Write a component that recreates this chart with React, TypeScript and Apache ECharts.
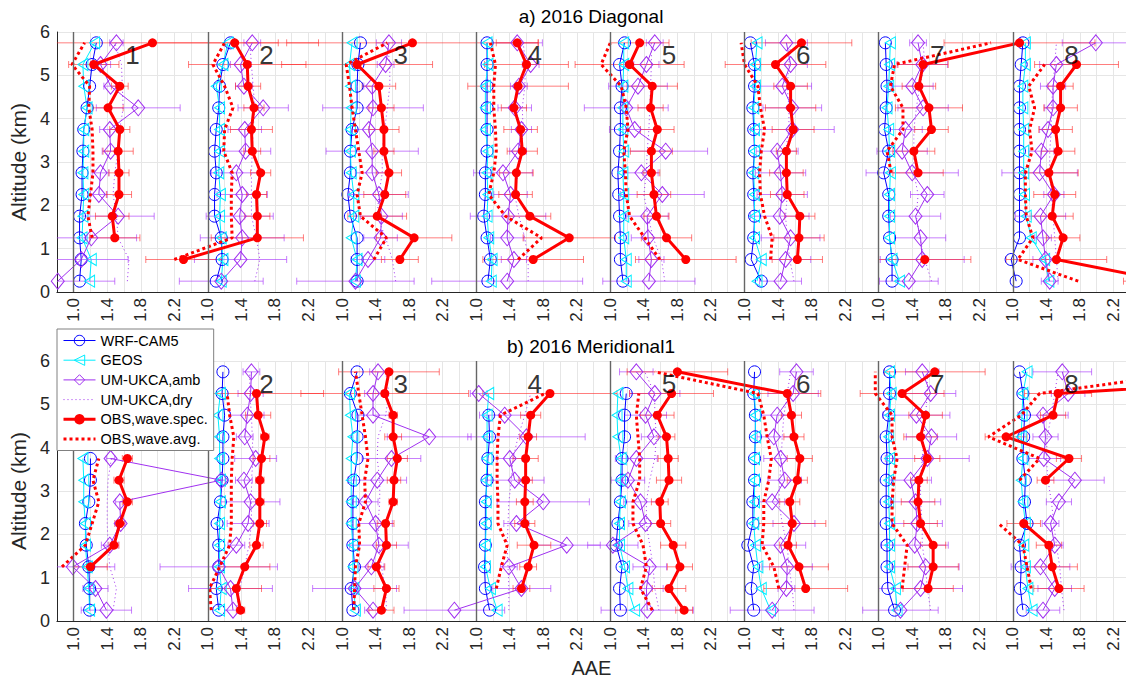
import React, { useEffect, useRef } from 'react';
import * as echarts from 'echarts';

// Altitude levels (km), bottom to top
const ALT = [0.25, 0.75, 1.25, 1.75, 2.25, 2.75, 3.25, 3.75, 4.25, 4.75, 5.25, 5.75];
const SUBPLOT_NAMES = ['1', '2', '3', '4', '5', '6', '7', '8'];
const TICK_LABELS = ['1.0', '1.4', '1.8', '2.2'];
const OFFSET = 1.6; // each sub-profile is shifted by this many AAE units
const LEGEND_NAMES = ['WRF-CAM5', 'GEOS', 'UM-UKCA,amb', 'UM-UKCA,dry', 'OBS,wave.spec.', 'OBS,wave.avg.'];

// ---------- a) 2016 Diagonal ----------
const A_WRF = [
  [1.07, 1.09, 1.07, 1.07, 1.10, 1.10, 1.11, 1.12, 1.16, 1.19, 1.22, 1.27],
  [1.10, 1.17, 1.16, 1.08, 1.08, 1.10, 1.08, 1.10, 1.13, 1.14, 1.18, 1.27],
  [1.18, 1.18, 1.18, 1.10, 1.07, 1.10, 1.10, 1.12, 1.18, 1.18, 1.19, 1.22],
  [1.14, 1.17, 1.13, 1.09, 1.11, 1.11, 1.13, 1.13, 1.13, 1.13, 1.13, 1.13],
  [1.15, 1.12, 1.12, 1.11, 1.10, 1.09, 1.11, 1.12, 1.12, 1.14, 1.11, 1.17],
  [1.20, 1.08, 1.11, 1.12, 1.11, 1.10, 1.12, 1.11, 1.10, 1.12, 1.12, 1.07],
  [1.16, 1.16, 1.13, 1.12, 1.12, 1.06, 1.12, 1.07, 1.09, 1.10, 1.09, 1.08],
  [1.04, 0.98, 1.08, 1.08, 1.08, 1.08, 1.08, 1.08, 1.08, 1.08, 1.10, 1.12],
];
const A_GEOS = [
  [1.19, 1.21, 1.10, 1.11, 1.12, 1.11, 1.12, 1.12, 1.16, 1.12, 1.11, 1.25],
  [1.16, 1.18, 1.16, 1.14, 1.15, 1.13, 1.14, 1.14, 1.14, 1.10, 1.18, 1.24],
  [1.16, 1.18, 1.11, 1.14, 1.14, 1.11, 1.10, 1.10, 1.11, 1.10, 1.09, 1.12],
  [1.18, 1.19, 1.15, 1.13, 1.14, 1.13, 1.14, 1.11, 1.11, 1.11, 1.14, 1.13],
  [1.19, 1.19, 1.16, 1.16, 1.16, 1.15, 1.16, 1.15, 1.15, 1.15, 1.16, 1.16],
  [1.15, 1.20, 1.12, 1.12, 1.12, 1.11, 1.12, 1.12, 1.11, 1.13, 1.13, 1.15],
  [1.25, 1.16, 1.13, 1.13, 1.13, 1.14, 1.13, 1.12, 1.10, 1.12, 1.13, 1.14],
  [1.43, 1.38, 1.22, 1.16, 1.14, 1.13, 1.13, 1.13, 1.12, 1.12, 1.15, 1.15],
];
const A_UM_AMB = [
  [0.81, 1.09, 1.21, 1.53, 1.30, 1.32, 1.44, 1.43, 1.77, 1.44, 1.32, 1.51],
  [1.16, 1.39, 1.41, 1.38, 1.41, 1.34, 1.45, 1.44, 1.66, 1.43, 1.39, 1.53],
  [1.16, 1.31, 1.46, 1.47, 1.44, 1.36, 1.36, 1.32, 1.37, 1.36, 1.52, 1.56],
  [1.37, 1.45, 1.37, 1.38, 1.41, 1.32, 1.50, 1.54, 1.46, 1.51, 1.65, 1.49],
  [1.46, 1.49, 1.45, 1.44, 1.62, 1.37, 1.66, 1.29, 1.19, 1.33, 1.43, 1.53],
  [1.43, 1.49, 1.55, 1.42, 1.45, 1.43, 1.39, 1.57, 1.57, 1.45, 1.55, 1.50],
  [1.36, 1.52, 1.50, 1.44, 1.58, 1.40, 1.28, 1.32, 1.53, 1.40, 1.52, 1.47],
  [1.44, 1.39, 1.36, 1.33, 1.49, 1.32, 1.34, 1.42, 1.48, 1.48, 1.52, 1.99],
];
const A_UM_DRY = [
  [1.64, 1.66, 1.53, 1.51, 1.47, 1.49, 1.53, 1.55, 1.59, 1.58, 1.57, 1.49],
  [1.56, 1.62, 1.58, 1.52, 1.52, 1.52, 1.53, 1.54, 1.56, 1.54, 1.52, 1.50],
  [1.64, 1.60, 1.52, 1.42, 1.44, 1.48, 1.48, 1.51, 1.54, 1.57, 1.57, 1.54],
  [1.62, 1.62, 1.58, 1.51, 1.46, 1.50, 1.54, 1.56, 1.55, 1.58, 1.59, 1.56],
  [1.65, 1.61, 1.51, 1.45, 1.40, 1.43, 1.44, 1.46, 1.47, 1.48, 1.49, 1.49],
  [1.59, 1.54, 1.51, 1.49, 1.51, 1.49, 1.49, 1.53, 1.53, 1.51, 1.53, 1.55],
  [1.63, 1.55, 1.49, 1.45, 1.47, 1.42, 1.42, 1.42, 1.45, 1.49, 1.55, 1.53],
  [1.54, 1.52, 1.50, 1.48, 1.46, 1.44, 1.44, 1.46, 1.46, 1.48, 1.50, 1.52],
];
const A_OBS_SPEC = [
  [null, null, 1.49, 1.46, 1.54, 1.54, 1.53, 1.55, 1.41, 1.55, 1.24, 1.94],
  [null, 0.71, 1.59, 1.59, 1.58, 1.63, 1.53, 1.52, 1.55, 1.48, 1.47, 1.32],
  [null, 1.69, 1.86, 1.42, 1.51, 1.56, 1.50, 1.50, 1.47, 1.44, 1.18, 1.84],
  [null, 1.68, 2.11, 1.64, 1.47, 1.48, 1.55, 1.53, 1.45, 1.50, 1.60, 1.49],
  [null, 1.90, 1.67, 1.55, 1.52, 1.49, 1.49, 1.56, 1.48, 1.50, 1.23, 1.35],
  [null, 1.63, 1.65, 1.66, 1.51, 1.50, 1.50, 1.58, 1.55, 1.55, 1.37, 1.68],
  [null, 1.55, null, null, null, 1.47, 1.42, 1.63, 1.60, 1.48, 1.53, 2.68],
  [2.82, 1.52, 1.60, 1.47, 1.50, 1.43, 1.54, 1.51, 1.57, 1.57, 1.76, null],
];
const A_OBS_AVG = [
  [null, null, 1.22, 1.17, 1.20, 1.23, 1.23, 1.22, 1.18, 1.19, 0.98, 1.13],
  [null, 0.60, 1.29, 1.28, 1.28, 1.29, 1.19, 1.20, 1.30, 1.20, 1.06, 1.20],
  [null, 1.38, 1.53, 1.22, 1.18, 1.24, 1.20, 1.16, 1.12, 1.09, 1.05, 1.54],
  [null, 1.50, 1.78, 1.35, 1.15, 1.21, 1.24, 1.23, 1.21, 1.21, 1.23, 1.17],
  [null, 1.59, 1.41, 1.23, 1.19, 1.18, 1.16, 1.21, 1.19, 1.13, 0.89, 1.00],
  [null, 1.31, 1.33, 1.24, 1.19, 1.18, 1.20, 1.24, 1.19, 1.16, 1.00, 0.96],
  [null, 1.20, null, null, null, 1.15, 1.10, 1.29, 1.29, 1.14, 1.19, 2.34],
  [1.78, 1.06, 1.24, 1.16, 1.15, 1.15, 1.23, 1.20, 1.26, 1.19, 1.38, null],
];
const A_OBS_ERR = [
  [null, null, 0.30, 0.20, 0.15, 0.12, 0.18, 0.12, 0.18, 0.10, 0.30, 1.50],
  [null, 0.45, 0.55, 0.15, 0.12, 0.12, 0.10, 0.25, 0.12, 0.15, 0.70, 1.00],
  [null, 0.22, 0.45, 0.35, 0.25, 0.15, 0.12, 0.18, 0.15, 0.20, 0.90, 1.50],
  [null, 0.60, 0.55, 0.25, 0.20, 0.20, 0.18, 0.20, 0.15, 0.60, 0.50, 0.25],
  [null, 0.60, 0.30, 0.15, 0.20, 0.10, 0.25, 0.20, 0.15, 0.30, 0.65, 0.35],
  [null, 0.30, 0.30, 0.18, 0.20, 0.20, 0.12, 0.25, 0.30, 0.20, 0.60, 0.60],
  [null, 0.55, null, null, null, 0.30, 0.25, 0.20, 0.40, 0.20, 0.30, 0.90],
  [0.50, 0.60, 0.20, 0.25, 0.25, 0.35, 0.20, 0.20, 0.20, 0.15, 0.50, null],
];
const A_UM_ERR = [
  [0.68, 0.56, 0.54, 0.43, 0.10, 0.10, 0.10, 0.12, 0.50, 0.08, 0.12, 0.08],
  [0.50, 0.55, 0.50, 0.40, 0.30, 0.30, 0.30, 0.20, 0.30, 0.10, 0.12, 0.10],
  [0.70, 0.20, 0.20, 0.25, 0.35, 0.20, 0.55, 0.20, 0.60, 0.10, 0.10, 0.15],
  [0.90, 0.15, 0.20, 0.45, 0.20, 0.35, 0.10, 0.12, 0.20, 0.10, 0.10, 0.30],
  [0.55, 0.15, 0.20, 0.25, 0.50, 0.20, 0.50, 0.30, 0.50, 0.35, 0.15, 0.10],
  [0.25, 0.30, 0.35, 0.35, 0.30, 0.30, 0.25, 0.50, 0.35, 0.35, 0.20, 0.25],
  [0.35, 0.50, 0.30, 0.30, 0.20, 0.55, 0.30, 0.20, 0.30, 0.25, 0.30, 0.10],
  [0.10, 0.15, 0.10, 0.30, 0.12, 0.45, 0.15, 0.10, 0.10, 0.15, 0.20, 0.40],
];

// ---------- b) 2016 Meridional1 ----------
const B_WRF = [
  [1.19, 1.19, 1.18, 1.15, 1.14, 1.18, 1.20, 1.20, null, null, null, null],
  [1.13, 1.10, 1.13, 1.13, 1.11, 1.15, 1.17, 1.18, 1.18, 1.20, 1.17, 1.18],
  [1.13, 1.11, 1.15, 1.13, 1.13, 1.13, 1.14, 1.18, 1.18, 1.19, 1.10, 1.18],
  [1.16, 1.11, 1.10, 1.11, 1.11, 1.11, 1.13, 1.14, 1.16, 1.15, null, null],
  [1.12, 1.11, 1.14, 1.07, 1.09, 1.12, 1.14, 1.14, 1.17, 1.17, 1.19, null],
  [1.11, 1.08, 1.11, 1.04, 1.10, 1.10, 1.12, 1.12, 1.13, 1.13, 1.11, 1.12],
  [1.19, 1.11, 1.10, 1.10, 1.09, 1.09, 1.09, 1.10, 1.09, 1.12, 1.13, 1.13],
  [1.12, 1.09, 1.10, 1.08, 1.17, 1.14, 1.15, 1.12, 1.13, 1.14, 1.12, 1.08],
];
const B_GEOS = [
  [1.19, 1.18, 1.16, 1.14, 1.14, 1.12, 1.12, 1.11, null, null, null, null],
  [1.14, 1.16, 1.14, 1.14, 1.14, 1.15, 1.15, 1.14, 1.14, 1.12, 1.15, null],
  [1.16, 1.14, 1.13, 1.13, 1.11, 1.11, 1.11, 1.11, 1.13, 1.10, 1.09, null],
  [1.25, 1.17, 1.11, 1.11, 1.12, 1.12, 1.12, 1.13, 1.13, 1.13, 1.15, null],
  [1.29, 1.21, 1.17, 1.11, 1.11, 1.12, 1.12, 1.13, 1.09, 1.08, 1.09, null],
  [1.31, 1.20, 1.16, 1.13, 1.11, 1.12, 1.12, 1.12, 1.13, 1.13, 1.12, null],
  [1.22, 1.20, 1.13, 1.13, 1.13, 1.12, 1.12, 1.13, 1.12, 1.13, 1.15, 1.13],
  [1.23, 1.18, 1.15, 1.13, 1.15, 1.12, 1.10, 1.12, 1.10, 1.11, 1.12, 1.17],
];
const B_UM_AMB = [
  [1.39, 1.26, 0.99, 1.43, 1.56, 1.55, 2.76, 1.44, null, null, null, null],
  [1.30, 1.27, 1.13, 1.34, 1.48, 1.51, 1.43, 1.57, 1.44, 1.47, 1.51, 1.52],
  [1.37, 1.15, 1.35, 1.44, 1.40, 1.28, 1.42, 1.59, 2.04, 1.37, 1.37, 1.43],
  [0.74, 1.54, 1.39, 2.08, 1.48, 1.80, 1.46, 1.40, 1.60, 1.34, 1.03, null],
  [1.44, 1.43, 1.47, 1.03, 1.42, 1.36, 1.21, 1.31, 1.52, 1.42, 1.53, 1.31],
  [1.33, 1.50, 1.51, 1.43, 1.59, 1.33, 1.48, 1.43, 1.35, 1.39, 1.58, 1.62],
  [1.26, 1.50, 1.56, 1.43, 1.46, 1.44, 1.38, 1.58, 1.63, 1.45, 1.62, 1.52],
  [1.36, 1.50, 1.33, 1.50, 1.45, 1.55, 1.74, 1.37, 1.39, 1.36, 1.66, 1.59],
];
const B_UM_DRY = [
  [1.47, 1.51, 1.43, 1.41, 1.40, 1.40, 1.41, 1.45, null, null, null, null],
  [1.34, 1.38, 1.44, 1.49, 1.52, 1.52, 1.52, 1.54, 1.53, 1.52, 1.50, 1.50],
  [1.53, 1.52, 1.47, 1.44, 1.43, 1.45, 1.45, 1.42, 1.43, 1.52, 1.56, 1.52],
  [1.39, 1.39, 1.38, 1.37, 1.38, 1.39, 1.42, 1.44, 1.50, 1.58, 1.65, null],
  [1.58, 1.53, 1.51, 1.47, 1.43, 1.43, 1.47, 1.53, 1.55, 1.53, 1.53, 1.41],
  [1.59, 1.57, 1.53, 1.51, 1.45, 1.41, 1.42, 1.44, 1.45, 1.47, 1.51, 1.55],
  [1.62, 1.58, 1.56, 1.52, 1.52, 1.50, 1.50, 1.52, 1.54, 1.56, 1.58, 1.58],
  [1.61, 1.58, 1.56, 1.52, 1.49, 1.46, 1.42, 1.40, 1.41, 1.46, 1.50, 1.54],
];
const B_OBS_SPEC = [
  [null, null, 1.20, 1.48, 1.55, 1.64, 1.54, 1.64, null, null, null, null],
  [1.39, 1.34, 1.44, 1.58, 1.62, 1.62, 1.62, 1.64, 1.68, 1.60, 1.58, null],
  [1.47, 1.53, 1.41, 1.53, 1.52, 1.61, 1.62, 1.66, 1.61, 1.61, 1.51, 1.56],
  [null, 1.54, 1.62, 1.69, 1.58, 1.58, 1.59, 1.59, 1.62, 1.65, 1.88, null],
  [1.88, 1.70, 1.83, 1.75, 1.60, 1.59, 1.70, 1.69, 1.67, 1.56, 1.73, null],
  [null, 1.73, 1.65, 1.52, 1.57, 1.54, 1.63, 1.66, 1.59, 1.56, 1.51, 0.20],
  [null, 1.59, 1.65, 1.65, 1.50, 1.47, 1.48, 1.58, 1.50, 1.56, 1.28, 1.67],
  [null, 1.55, 1.47, 1.43, 1.13, null, 1.39, 1.67, 0.92, 1.48, 1.54, 5.70],
];
const B_OBS_AVG = [
  [null, null, 0.86, 1.14, 1.22, 1.30, 1.23, 1.30, null, null, null, null],
  [1.04, 1.02, 1.14, 1.26, 1.28, 1.28, 1.28, 1.29, 1.31, 1.26, 1.23, null],
  [1.14, 1.15, 1.16, 1.21, 1.20, 1.28, 1.27, 1.31, 1.28, 1.24, 1.20, 1.16],
  [null, 1.24, 1.30, 1.37, 1.26, 1.26, 1.25, 1.25, 1.26, 1.29, 1.82, null],
  [1.50, 1.36, 1.43, 1.39, 1.27, 1.27, 1.35, 1.35, 1.33, 1.31, 1.34, null],
  [null, 1.41, 1.35, 1.21, 1.23, 1.23, 1.29, 1.32, 1.27, 1.23, 1.16, -0.07],
  [null, 1.28, 1.31, 1.34, 1.16, 1.16, 1.18, 1.22, 1.16, 1.16, 0.96, 0.96],
  [null, 1.22, 1.17, 1.12, 0.83, null, 1.08, 1.32, 0.71, 1.10, 1.32, 3.20],
];
const B_OBS_ERR = [
  [null, null, 0.20, 0.06, 0.06, 0.06, 0.06, 0.06, null, null, null, null],
  [0.05, 0.30, 0.30, 0.08, 0.08, 0.05, 0.05, 0.10, 0.05, 0.15, 0.80, null],
  [0.15, 0.15, 0.10, 0.12, 0.10, 0.05, 0.08, 0.12, 0.10, 0.05, 1.00, 0.60],
  [null, 0.10, 0.10, 0.20, 0.12, 0.10, 0.08, 0.15, 0.10, 0.12, 0.80, null],
  [0.10, 0.20, 0.15, 0.15, 0.12, 0.10, 0.15, 0.12, 0.10, 0.20, 0.50, null],
  [null, 0.50, 0.35, 0.10, 0.40, 0.12, 0.12, 0.15, 0.12, 0.12, 0.40, 0.60],
  [null, 0.30, 0.30, 0.15, 0.20, 0.20, 0.10, 0.15, 0.20, 0.20, 0.50, 0.60],
  [null, 0.30, 0.30, 0.15, 0.20, null, 0.10, 0.15, 0.25, 0.15, 0.40, null],
];
const B_UM_ERR = [
  [0.30, 0.15, 0.50, 0.10, 0.05, 0.05, 0.05, 0.05, null, null, null, null],
  [0.10, 0.50, 0.70, 0.10, 0.25, 0.35, 0.10, 0.25, 0.10, 0.20, 0.15, 0.10],
  [0.10, 0.50, 0.15, 0.35, 0.20, 0.15, 0.35, 0.35, 0.50, 0.20, 0.10, 0.10],
  [0.60, 0.35, 0.10, 0.40, 0.15, 0.55, 0.35, 0.15, 0.70, 0.30, 0.10, null],
  [0.55, 0.20, 0.20, 0.30, 0.20, 0.20, 0.20, 0.25, 0.15, 0.25, 0.30, 0.20],
  [0.50, 0.10, 0.30, 0.30, 0.25, 0.15, 0.20, 0.20, 0.20, 0.20, 0.30, 0.20],
  [0.45, 0.50, 0.40, 0.40, 0.30, 0.30, 0.25, 0.50, 0.30, 0.40, 0.30, 0.20],
  [0.20, 0.20, 0.35, 0.10, 0.10, 0.15, 0.35, 0.20, 0.15, 0.30, 0.20, 0.35],
];

const PANELS = [
  { title: 'a) 2016 Diagonal', wrf: A_WRF, geos: A_GEOS, umAmb: A_UM_AMB, umDry: A_UM_DRY, obsSpec: A_OBS_SPEC, obsAvg: A_OBS_AVG, obsErr: A_OBS_ERR, umErr: A_UM_ERR },
  { title: 'b) 2016 Meridional1', wrf: B_WRF, geos: B_GEOS, umAmb: B_UM_AMB, umDry: B_UM_DRY, obsSpec: B_OBS_SPEC, obsAvg: B_OBS_AVG, obsErr: B_OBS_ERR, umErr: B_UM_ERR },
];

const FONT = '"Liberation Sans", Arial, Helvetica, sans-serif';
const BLUE = '#0000FF';
const CYAN = '#00EEFF';
const PURPLE = '#A030F0';
const RED = '#FF0000';
const RED_ERR = 'rgba(255,40,40,0.6)';
const PURPLE_ERR = 'rgba(170,60,250,0.65)';
const GRID_COLOR = '#E6E6E6';
const AXIS_COLOR = '#262626';
const CLEAR = 'rgba(255,255,255,0)';

const X_MIN = 0.8;
const X_MAX = 13.55;
const X_STEP = 0.2;
const LABEL_LOCAL_X = 1.7;
const LABEL_ALT = 5.48;

function lineData(sub: (number | null)[][]) {
  const out: any[] = [];
  sub.forEach((arr, k) => {
    arr.forEach((v, i) => {
      out.push(v == null ? ['-', ALT[i]] : [v + k * OFFSET, ALT[i]]);
    });
    out.push(['-', '-']);
  });
  return out;
}

function errData(sub: (number | null)[][], err: (number | null)[][]) {
  const out: any[] = [];
  sub.forEach((arr, k) => {
    arr.forEach((v, i) => {
      const e = err[k][i];
      if (v != null && e != null) out.push([v - e + k * OFFSET, v + e + k * OFFSET, ALT[i]]);
    });
  });
  return out;
}

function makeErrRender(color: string) {
  return (params: any, api: any) => {
    const lo = api.coord([api.value(0), api.value(2)]);
    const hi = api.coord([api.value(1), api.value(2)]);
    const cs = params.coordSys;
    const xmin = cs.x;
    const xmax = cs.x + cs.width;
    const x1 = Math.max(lo[0], xmin);
    const x2 = Math.min(hi[0], xmax);
    if (x2 <= x1) return null;
    const y = lo[1];
    const style = { stroke: color, lineWidth: 1, fill: 'none' };
    const children: any[] = [{ type: 'line', shape: { x1, y1: y, x2, y2: y }, style }];
    if (lo[0] >= xmin) children.push({ type: 'line', shape: { x1: lo[0], y1: y - 3.5, x2: lo[0], y2: y + 3.5 }, style });
    if (hi[0] <= xmax) children.push({ type: 'line', shape: { x1: hi[0], y1: y - 3.5, x2: hi[0], y2: y + 3.5 }, style });
    return { type: 'group', children };
  };
}

function xLabel(v: number) {
  const n = Math.round((v - 1.0) / X_STEP);
  if (n < 0 || n % 2 !== 0) return '';
  return TICK_LABELS[(n / 2) % TICK_LABELS.length];
}

const LEGEND_STYLE: Record<string, any> = {
  'WRF-CAM5': {
    itemStyle: { color: CLEAR, borderColor: BLUE, borderWidth: 1 },
    lineStyle: { color: BLUE, width: 1, type: 'solid' },
  },
  'GEOS': {
    itemStyle: { color: CLEAR, borderColor: CYAN, borderWidth: 1 },
    lineStyle: { color: CYAN, width: 1, type: 'solid' },
  },
  'UM-UKCA,amb': {
    itemStyle: { color: CLEAR, borderColor: PURPLE, borderWidth: 1 },
    lineStyle: { color: PURPLE, width: 1, type: 'solid' },
  },
  'UM-UKCA,dry': {
    itemStyle: { color: CLEAR, borderColor: CLEAR, borderWidth: 0 },
    lineStyle: { color: PURPLE, width: 1, type: [1, 3] },
  },
  'OBS,wave.spec.': {
    itemStyle: { color: RED, borderColor: RED, borderWidth: 0 },
    lineStyle: { color: RED, width: 3, type: 'solid' },
  },
  'OBS,wave.avg.': {
    itemStyle: { color: CLEAR, borderColor: CLEAR, borderWidth: 0 },
    lineStyle: { color: RED, width: 3, type: [3, 3] },
  },
};

export default function App() {
  const ref = useRef<HTMLDivElement>(null);

  useEffect(() => {
    if (!ref.current) return;
    const chart = echarts.init(ref.current, undefined, { renderer: 'svg' });

    const grids = [
      { left: 53, top: 32, right: 0, height: 260 },
      { left: 53, top: 361, right: 0, height: 260 },
    ];

    const xAxes = grids.map((_, p) => ({
      type: 'value',
      gridIndex: p,
      min: X_MIN,
      max: X_MAX,
      interval: X_STEP,
      name: p === 1 ? 'AAE' : '',
      nameLocation: 'middle',
      nameGap: 37,
      nameTextStyle: { fontSize: 20, color: AXIS_COLOR, fontFamily: FONT },
      axisLine: { show: true, onZero: false, lineStyle: { color: AXIS_COLOR, width: 1 } },
      axisTick: { show: false },
      axisLabel: { formatter: xLabel, rotate: 90, fontSize: 17, color: AXIS_COLOR, fontFamily: FONT, margin: 6 },
      splitLine: { show: true, lineStyle: { color: GRID_COLOR, width: 1 } },
    }));

    const yAxes = grids.map((_, p) => ({
      type: 'value',
      gridIndex: p,
      min: 0,
      max: 6,
      interval: 1,
      name: 'Altitude (km)',
      nameLocation: 'middle',
      nameRotate: 90,
      nameGap: 19,
      nameTextStyle: { fontSize: 21, color: AXIS_COLOR, fontFamily: FONT },
      axisLine: { show: true, onZero: false, lineStyle: { color: AXIS_COLOR, width: 1 } },
      axisTick: { show: false },
      axisLabel: { fontSize: 18, color: AXIS_COLOR, fontFamily: FONT, margin: 7 },
      splitLine: { show: true, lineStyle: { color: GRID_COLOR, width: 1 } },
    }));

    const series: any[] = [];
    const separators = SUBPLOT_NAMES.map((_, k) => ({ xAxis: 1.0 + k * OFFSET }));

    PANELS.forEach((P, p) => {
      const ax = { xAxisIndex: p, yAxisIndex: p };
      series.push({
        type: 'custom', name: 'umErr', ...ax, z: 1, silent: true,
        renderItem: makeErrRender(PURPLE_ERR), data: errData(P.umAmb, P.umErr),
        markLine: {
          silent: true, symbol: ['none', 'none'], label: { show: false },
          lineStyle: { color: '#666666', width: 1.4, type: 'solid' }, data: separators,
        },
      });
      series.push({
        type: 'custom', name: 'obsErr', ...ax, z: 1, silent: true,
        renderItem: makeErrRender(RED_ERR), data: errData(P.obsSpec, P.obsErr),
      });
      series.push({
        type: 'line', name: 'WRF-CAM5', ...ax, z: 3, data: lineData(P.wrf),
        symbol: 'circle', symbolSize: 12, lineStyle: { color: BLUE, width: 1 },
        itemStyle: { color: CLEAR, borderColor: BLUE, borderWidth: 1 },
      });
      series.push({
        type: 'line', name: 'GEOS', ...ax, z: 3, data: lineData(P.geos),
        symbol: 'path://M0,6 L10,0 L10,12 Z', symbolSize: [10, 12], lineStyle: { color: CYAN, width: 1 },
        itemStyle: { color: CLEAR, borderColor: CYAN, borderWidth: 1 },
      });
      series.push({
        type: 'line', name: 'UM-UKCA,amb', ...ax, z: 3, data: lineData(P.umAmb),
        symbol: 'diamond', symbolSize: [13, 16], lineStyle: { color: PURPLE, width: 1 },
        itemStyle: { color: CLEAR, borderColor: PURPLE, borderWidth: 1 },
      });
      series.push({
        type: 'line', name: 'UM-UKCA,dry', ...ax, z: 3, data: lineData(P.umDry),
        symbol: 'none', lineStyle: { color: PURPLE, width: 1, type: [1, 3] },
        itemStyle: { color: PURPLE },
      });
      series.push({
        type: 'line', name: 'OBS,wave.spec.', ...ax, z: 4, data: lineData(P.obsSpec),
        symbol: 'circle', symbolSize: 9, lineStyle: { color: RED, width: 3 },
        itemStyle: { color: RED, borderColor: RED, borderWidth: 0 },
      });
      series.push({
        type: 'line', name: 'OBS,wave.avg.', ...ax, z: 4, data: lineData(P.obsAvg),
        symbol: 'none', lineStyle: { color: RED, width: 3, type: [3, 3] },
        itemStyle: { color: RED },
      });
      // subplot numbers (panel b's "1" sits under the legend in the original)
      series.push({
        type: 'scatter', name: 'labels', ...ax, z: 5, silent: true,
        symbol: 'circle', symbolSize: 1, itemStyle: { color: CLEAR },
        label: { show: true, position: 'inside', formatter: '{b}', fontSize: 26, color: '#000', fontFamily: FONT },
        data: SUBPLOT_NAMES
          .map((name, k) => ({ name, value: [LABEL_LOCAL_X + k * OFFSET, LABEL_ALT] }))
          .filter((_, k) => !(p === 1 && k === 0)),
      });
    });

    chart.setOption({
      animation: false,
      backgroundColor: '#fff',
      textStyle: { fontFamily: FONT },
      grid: grids,
      xAxis: xAxes,
      yAxis: yAxes,
      legend: {
        data: LEGEND_NAMES.map((name) => ({ name, ...LEGEND_STYLE[name] })),
        orient: 'vertical',
        left: 57,
        top: 329,
        itemWidth: 32,
        itemHeight: 13,
        itemGap: 4.7,
        padding: [4, 6, 4, 5],
        backgroundColor: '#fff',
        borderColor: '#808080',
        borderWidth: 1,
        borderRadius: 0,
        selectedMode: false,
        z: 20,
        textStyle: { fontSize: 14.5, color: '#000', fontFamily: FONT },
      },
      graphic: PANELS.map((P, p) => ({
        type: 'text',
        x: 591,
        y: p === 0 ? 16 : 346,
        z: 10,
        style: { text: P.title, fontSize: 19, fontFamily: FONT, fill: '#000', align: 'center', verticalAlign: 'middle', textAlign: 'center', textVerticalAlign: 'middle' },
      })),
      series,
    });

    return () => chart.dispose();
  }, []);

  return <div ref={ref} style={{ position: 'absolute', left: 0, top: 0, width: 1126, height: 680 }} />;
}
